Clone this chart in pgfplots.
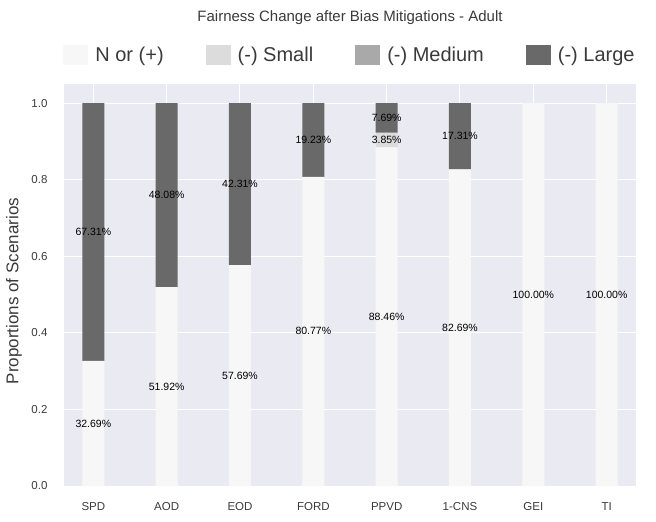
\documentclass[border=0pt]{standalone}
\usepackage{fontspec}
\setmainfont{Liberation Sans}
\usepackage{pgfplots}
\pgfplotsset{compat=1.18}
\definecolor{bg}{HTML}{EAEAF2}
\definecolor{txt}{HTML}{3A3A3A}
\definecolor{cN}{HTML}{F7F7F7}
\definecolor{cS}{HTML}{DCDCDC}
\definecolor{cM}{HTML}{A9A9A9}
\definecolor{cL}{HTML}{696969}
\pgfplotsset{sqleg/.style={legend image code/.code={\fill[##1] (0pt,-10pt) rectangle (25pt,10pt); \path (30pt,0pt);}}}
\begin{document}
\begin{tikzpicture}
\begin{axis}[
  at={(0,0)}, anchor=south west,
  scale only axis, width=572pt, height=402pt,
  ybar stacked, bar width=0.3,
  xmin=-0.4, xmax=7.4, ymin=0, ymax=1.05,
  xtick={0,1,2,3,4,5,6,7},
  xticklabels={SPD,AOD,EOD,FORD,PPVD,1-CNS,GEI,TI},
  ytick={0,0.2,0.4,0.6,0.8,1.0},
  yticklabel style={/pgf/number format/fixed, /pgf/number format/fixed zerofill, /pgf/number format/precision=1, /pgf/number format/assume math mode=true, anchor=east, xshift=-13pt},
  ticklabel style={font=\fontsize{11.5}{11.5}\selectfont, text=txt},
  xticklabel style={yshift=-13pt},
  major tick length=0pt,
  axis line style={draw=none},
  axis background/.style={fill=bg},
  grid=major, major grid style={white, line width=1pt},
  ylabel={Proportions of Scenarios},
  ylabel style={at={(axis description cs:-0.0874,0.485)}, anchor=center, font=\fontsize{17}{17}\selectfont, text=txt},
  title={Fairness Change after Bias Mitigations - Adult},
  title style={at={(axis description cs:0.5,1)}, anchor=center, yshift=60pt, font=\fontsize{15}{15}\selectfont, text=txt},
  legend style={draw=none, fill=none, at={(0.5,1.072)}, anchor=center, legend columns=4,
    font=\fontsize{20}{20}\selectfont, text=txt,
    /tikz/every even column/.append style={column sep=40pt}},
]
\addplot[fill=cN, draw=none, sqleg] coordinates {(0,0.3269) (1,0.5192) (2,0.5769) (3,0.8077) (4,0.8846) (5,0.8269) (6,1.0) (7,1.0)};
\addplot[fill=cS, draw=none, sqleg] coordinates {(0,0) (1,0) (2,0) (3,0) (4,0.0385) (5,0) (6,0) (7,0)};
\addplot[fill=cM, draw=none, sqleg] coordinates {(0,0) (1,0) (2,0) (3,0) (4,0) (5,0) (6,0) (7,0)};
\addplot[fill=cL, draw=none, sqleg] coordinates {(0,0.6731) (1,0.4808) (2,0.4231) (3,0.1923) (4,0.0769) (5,0.1731) (6,0) (7,0)};
\legend{N or (+), (-) Small, (-) Medium, (-) Large}
\end{axis}
\begin{axis}[
  at={(0,0)}, anchor=south west,
  scale only axis, width=572pt, height=402pt,
  xmin=-0.4, xmax=7.4, ymin=0, ymax=1.05,
  hide axis,
]
\addplot[only marks, mark=none, point meta=explicit symbolic, nodes near coords,
  every node near coord/.append style={anchor=center, font=\fontsize{10.5}{10.5}\selectfont, text=black, inner sep=0pt}]
coordinates {
(0,0.16345) [32.69\%]
(0,0.66345) [67.31\%]
(1,0.2596) [51.92\%]
(1,0.7596) [48.08\%]
(2,0.28845) [57.69\%]
(2,0.78845) [42.31\%]
(3,0.40385) [80.77\%]
(3,0.90385) [19.23\%]
(4,0.4423) [88.46\%]
(4,0.90385) [3.85\%]
(4,0.96155) [7.69\%]
(5,0.41345) [82.69\%]
(5,0.91345) [17.31\%]
(6,0.5) [100.00\%]
(7,0.5) [100.00\%]
};
\end{axis}
\pgfresetboundingbox
\path (-64pt,-36pt) rectangle (592pt,486pt);
\end{tikzpicture}
\end{document}
